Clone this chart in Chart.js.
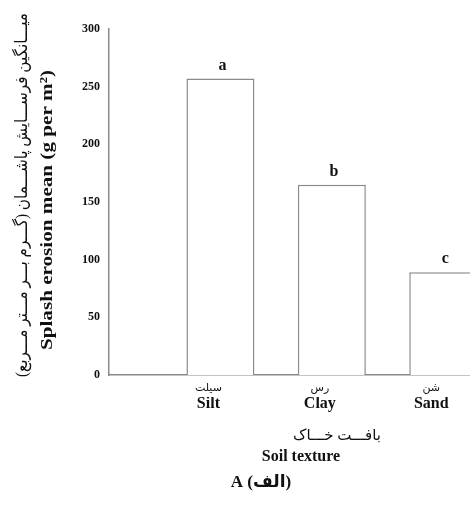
<!DOCTYPE html>
<html>
<head>
<meta charset="utf-8">
<script src="https://cdn.jsdelivr.net/npm/chart.js@4.4.0/dist/chart.umd.min.js"></script>
<style>
  html, body { margin: 0; padding: 0; background: #ffffff; }
  #wrap { width: 470px; height: 515px; }
</style>
</head>
<body>
<div id="wrap"><canvas id="chart-splash"></canvas></div>
<script>
// data
const textures = ['Silt', 'Clay', 'Sand'];
const texturesFa = ['سیلت', 'رس', 'شن'];
const splashMean = [257, 165, 89];
const groupLetters = ['a', 'b', 'c'];
const yTicks = [0, 50, 100, 150, 200, 250, 300];

const yTitleFa = 'میـــانگین فرســـایش پاشـــمان (گـــرم بـــر مـــتر مـــربع)';
const yTitleEn = 'Splash erosion mean (g per m²)';
const xTitleFa = 'بافـــت خـــاک';
const xTitleEn = 'Soil texture';
const caption = 'A (الف)';

const axisColor = '#8a8a8a';
const inkColor = '#111111';
const serif = "'Liberation Serif', 'DejaVu Sans', serif";

function drawRotated(ctx, text, x, y, len, font) {
    ctx.save();
    ctx.font = font;
    ctx.translate(x, y);
    ctx.rotate(-Math.PI / 2);
    const w = ctx.measureText(text).width;
    ctx.scale(len / w, 1);
    ctx.fillText(text, 0, 0);
    ctx.restore();
}

// letters over the bars + titles
const labelsPlugin = {
    id: 'labelsPlugin',
    afterDatasetsDraw(chart) {
        const ctx = chart.ctx;
        const meta = chart.getDatasetMeta(0);
        ctx.save();
        ctx.fillStyle = inkColor;
        ctx.textAlign = 'center';
        ctx.textBaseline = 'bottom';
        ctx.font = 'bold 16px ' + serif;
        meta.data.forEach((bar, i) => {
            ctx.fillText(groupLetters[i], bar.x + 2, bar.y - 5);
        });
        ctx.restore();
    },
    afterDraw(chart) {
        const ctx = chart.ctx;
        ctx.save();
        ctx.fillStyle = inkColor;
        ctx.textAlign = 'center';
        ctx.textBaseline = 'middle';
        drawRotated(ctx, yTitleFa, 23, 195, 364, '17px ' + serif);
        drawRotated(ctx, yTitleEn, 48, 210, 280, 'bold 17px ' + serif);
        ctx.font = '15px ' + serif;
        ctx.fillText(xTitleFa, 337, 436);
        ctx.font = 'bold 16px ' + serif;
        ctx.fillText(xTitleEn, 301, 457);
        ctx.font = 'bold 17px ' + serif;
        ctx.fillText(caption, 261, 483);
        ctx.restore();
    },
};

const categoryTicks = (axis) => {
    axis.ticks = textures.map((t, i) => ({ value: i + 1 }));
};

const ctx1 = document.getElementById('chart-splash').getContext('2d');

new Chart(ctx1, {
    type: 'bar',
    data: {
        datasets: [
            {
                label: 'Splash erosion mean',
                data: splashMean.map((v, i) => ({ x: i + 1, y: v })),
                backgroundColor: '#ffffff',
                borderColor: axisColor,
                borderWidth: 1.5,
                categoryPercentage: 0.61,
                barPercentage: 1,
            },
        ],
    },
    options: {
        responsive: true,
        maintainAspectRatio: false,
        animation: false,
        layout: {
            padding: { top: 29, right: 0, bottom: 96, left: 0 },
        },
        plugins: {
            legend: { display: false },
            tooltip: { enabled: false },
        },
        scales: {
            x: {
                type: 'linear',
                position: 'bottom',
                offset: false,
                min: 0,
                max: 3.24,
                afterBuildTicks: categoryTicks,
                afterFit: (axis) => { axis.height = 22; },
                grid: { display: false, drawTicks: false, offset: false },
                border: { color: axisColor, width: 1.5 },
                ticks: {
                    callback: (v) => texturesFa[v - 1],
                    font: { family: serif, size: 11 },
                    color: inkColor,
                    padding: 7,
                    labelOffset: -12,
                    maxRotation: 0,
                    autoSkip: false,
                },
            },
            x2: {
                axis: 'x',
                type: 'linear',
                position: 'bottom',
                offset: false,
                min: 0,
                max: 3.24,
                afterBuildTicks: categoryTicks,
                afterFit: (axis) => { axis.height = 22; },
                grid: { display: false, drawTicks: false, offset: false },
                border: { display: false },
                ticks: {
                    callback: (v) => textures[v - 1],
                    font: { family: serif, size: 16, weight: 'bold' },
                    color: inkColor,
                    padding: -3,
                    labelOffset: -12,
                    maxRotation: 0,
                    autoSkip: false,
                },
            },
            y: {
                min: 0,
                max: 300,
                afterBuildTicks: (axis) => {
                    axis.ticks = yTicks.map((v) => ({ value: v }));
                },
                afterFit: (axis) => { axis.width = 109; },
                grid: { display: false, drawTicks: false },
                border: { color: axisColor, width: 1.5 },
                ticks: {
                    font: { family: serif, size: 12, weight: 'bold' },
                    color: inkColor,
                    padding: 9,
                },
            },
        },
    },
    plugins: [labelsPlugin],
});
</script>
</body>
</html>
